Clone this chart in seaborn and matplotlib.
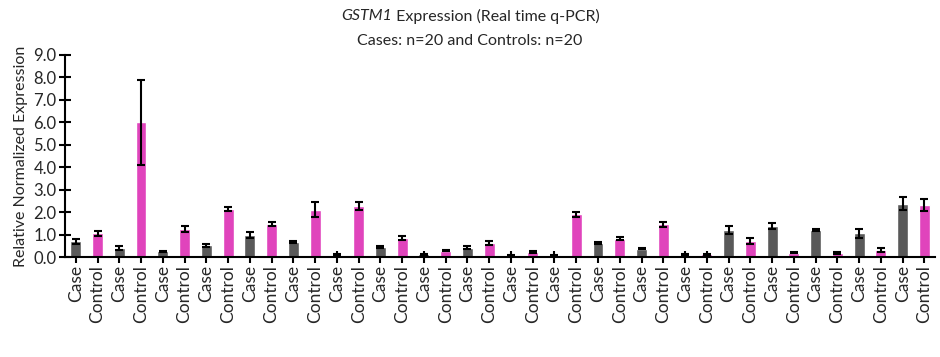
import numpy as np
import pandas as pd
import matplotlib
matplotlib.use("Agg")
import matplotlib.pyplot as plt
import seaborn as sns

# sample groups, alternating case / control
groups = ["Case", "Control"] * 20
expression = [0.70, 1.05, 0.40, 6.00, 0.25, 1.25, 0.52, 2.15, 0.98, 1.47,
              0.68, 2.10, 0.10, 2.28, 0.45, 0.85, 0.12, 0.28, 0.42, 0.63,
              0.07, 0.23, 0.08, 1.90, 0.63, 0.82, 0.38, 1.45, 0.10, 0.13,
              1.22, 0.72, 1.38, 0.20, 1.20, 0.18, 1.05, 0.32, 2.38, 2.30]
errors = [0.12, 0.12, 0.07, 1.90, 0.04, 0.12, 0.07, 0.10, 0.12, 0.10,
          0.05, 0.33, 0.03, 0.18, 0.04, 0.08, 0.03, 0.03, 0.05, 0.08,
          0.03, 0.03, 0.03, 0.12, 0.05, 0.06, 0.03, 0.10, 0.03, 0.02,
          0.18, 0.15, 0.12, 0.04, 0.05, 0.03, 0.20, 0.10, 0.28, 0.27]
colors = {"Case": "#595959", "Control": "#E044BC"}

sns.set_theme(style="white")
plt.rcParams["font.family"] = ["Lato", "DejaVu Sans"]

df = pd.DataFrame({"pos": np.arange(len(groups)), "group": groups,
                   "value": expression, "err": errors})

fig = plt.figure(figsize=(9.4, 3.57), dpi=100)
ax = fig.add_axes([0.069, 0.28, 0.926, 0.566])

sns.barplot(data=df, x="pos", y="value", hue="group", palette=colors,
            dodge=False, width=0.5, saturation=1, legend=False, ax=ax,
            errorbar=None)
ax.errorbar(df["pos"], df["value"], yerr=df["err"], fmt="none",
            ecolor="black", elinewidth=1.5, capsize=3, capthick=1.5)

ax.set_xlim(-0.5, len(groups) - 0.5)
ax.set_ylim(0, 9)
ax.set_yticks(np.arange(0, 9.1, 1.0))
ax.set_yticklabels([f"{v:.1f}" for v in np.arange(0, 9.1, 1.0)], fontsize=12)
ax.set_xticks(df["pos"])
ax.set_xticklabels(groups, rotation=90, fontsize=12.5)
ax.set_xlabel("")
ax.set_ylabel("Relative Normalized Expression", fontsize=11.5)

for side in ["top", "right"]:
    ax.spines[side].set_visible(False)
for side in ["left", "bottom"]:
    ax.spines[side].set_color("black")
    ax.spines[side].set_linewidth(1.5)
ax.tick_params(axis="both", which="major", direction="inout", length=8,
               width=1.5, color="black", left=True, bottom=True, pad=2)

# title: gene name in italics, rest upright
renderer = fig.canvas.get_renderer()
t1 = fig.text(0, 0.955, "GSTM1", style="italic", ha="left", va="center",
              fontsize=11.5)
t2 = fig.text(0, 0.955, " Expression (Real time q-PCR)", ha="left",
              va="center", fontsize=11.5)
w1 = t1.get_window_extent(renderer).width
w2 = t2.get_window_extent(renderer).width
x0 = (fig.bbox.width - (w1 + w2)) / 2
t1.set_x(x0 / fig.bbox.width)
t2.set_x((x0 + w1) / fig.bbox.width)
fig.text(0.5, 0.885, "Cases: n=20 and Controls: n=20",
         ha="center", va="center", fontsize=11.5)

fig.savefig("out.png", dpi=100)
